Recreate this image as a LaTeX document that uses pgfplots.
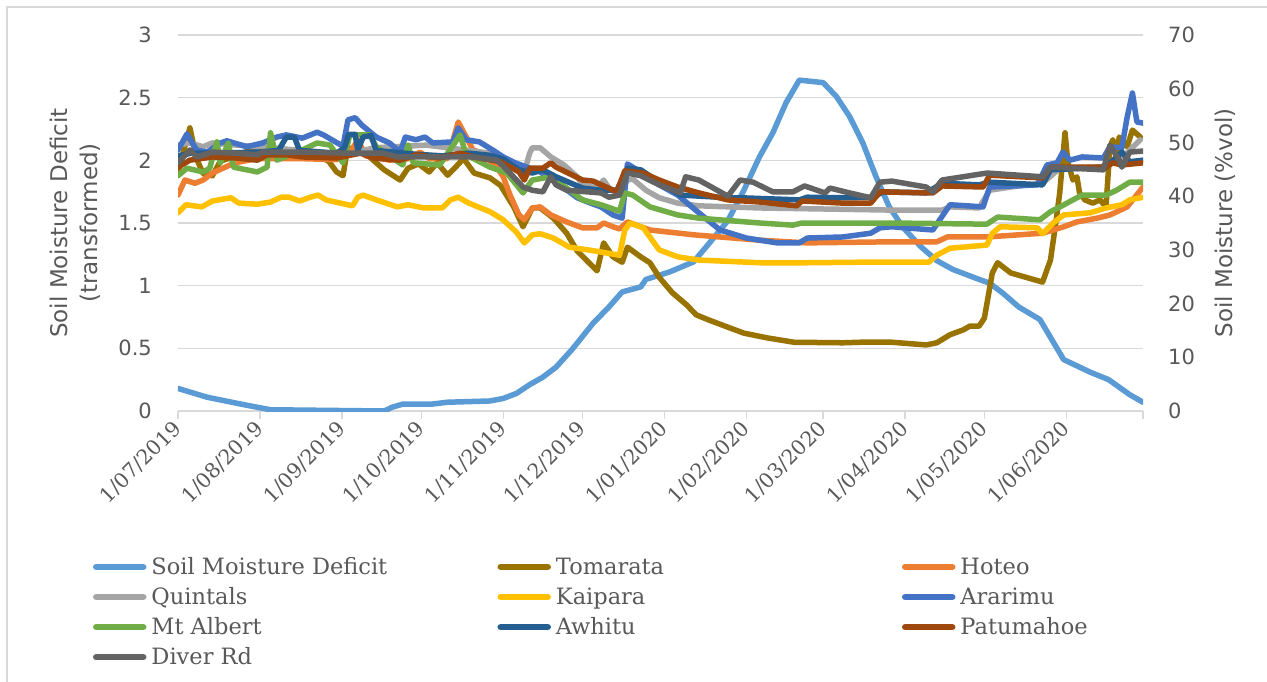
\documentclass[border=0pt]{standalone}
\usepackage{pgfplots}
\pgfplotsset{compat=1.18}
\usepackage{fontspec}
\setmainfont{DejaVu Serif}
\newfontfamily\dvsans{DejaVu Sans}
\definecolor{smd}{HTML}{5B9BD5}
\definecolor{tomarata}{HTML}{997300}
\definecolor{hoteo}{HTML}{ED7D31}
\definecolor{quintals}{HTML}{A5A5A5}
\definecolor{kaipara}{HTML}{FFC000}
\definecolor{ararimu}{HTML}{4472C4}
\definecolor{mtalbert}{HTML}{70AD47}
\definecolor{awhitu}{HTML}{255E91}
\definecolor{patumahoe}{HTML}{9E480E}
\definecolor{diver}{HTML}{636363}
\definecolor{gridgrey}{HTML}{D9D9D9}
\definecolor{textgrey}{HTML}{595959}
\pgfplotsset{
  common/.style={
    scale only axis, width=965pt, height=376pt,
    at={(178pt,270pt)}, anchor=south west,
    xmin=0, xmax=365,
    /pgf/number format/assume math mode=true,
  },
  ser/.style={line width=5.5pt, line join=round, line cap=round, mark=none},
}
\begin{document}
\begin{tikzpicture}
\useasboundingbox (0,0) rectangle (1267pt,681pt);
\fill[white] (0,0) rectangle (1267pt,681pt);
\draw[color=gridgrey, line width=1.2pt] (7pt,-20pt) -- (7pt,674pt) -- (1300pt,674pt);
\begin{axis}[common,
  ymin=0, ymax=3, ytick={0,0.5,1,1.5,2,2.5,3},
  ymajorgrids, grid style={color=gridgrey, line width=1.3pt},
  axis x line*=bottom, axis y line*=left,
  y axis line style={draw=none}, ytick style={draw=none},
  x axis line style={-, color=gridgrey, line width=1.3pt},
  xtick={0,31,62,92,123,153,184,215,244,275,305,336,365},
  xticklabels={1/07/2019,1/08/2019,1/09/2019,1/10/2019,1/11/2019,1/12/2019,1/01/2020,1/02/2020,1/03/2020,1/04/2020,1/05/2020,1/06/2020,{}},
  xtick align=outside, major tick length=8pt,
  xtick style={color=gridgrey, line width=1.3pt},
  xticklabel style={rotate=45, anchor=east, inner sep=0pt, font=\fontsize{20.5}{20.5}\selectfont, text=textgrey},
  xticklabel shift=6pt,
  yticklabel style={anchor=east, inner sep=0pt, xshift=-26pt, font=\dvsans\fontsize{21}{21}\selectfont, text=textgrey},
  ylabel={Soil Moisture Deficit\\(transformed)},
  ylabel style={at={(axis description cs:-0.0767,0.5)}, anchor=south, align=center, font=\dvsans\fontsize{23}{30}\selectfont, text=textgrey},
]
\addplot[ser, color=smd] coordinates {(0,0.18)(11,0.11)(25,0.05)(35,0.01)(78,0.0)(81,0.03)(85,0.055)(96,0.055)(102,0.07)(118,0.08)(123,0.10)(128,0.14)(133,0.21)(138,0.27)(143,0.35)(149,0.49)(157,0.70)(163,0.83)(168,0.95)(175,0.99)(177,1.05)(186,1.11)(195,1.19)(201,1.34)(208,1.52)(214,1.76)(220,2.03)(225,2.22)(230,2.46)(235,2.64)(244,2.62)(249,2.51)(254,2.35)(259,2.14)(264,1.87)(269,1.63)(274,1.47)(281,1.31)(287,1.20)(293,1.13)(303,1.05)(307,1.02)(312,0.94)(318,0.83)(326,0.73)(335,0.41)(345,0.31)(352,0.25)(360,0.13)(365,0.07)};
\end{axis}
\begin{axis}[common,
  ymin=0, ymax=70, ytick={0,10,20,30,40,50,60,70},
  axis x line=none, axis y line*=right,
  y axis line style={draw=none}, ytick style={draw=none},
  yticklabel style={anchor=west, inner sep=0pt, xshift=25pt, font=\dvsans\fontsize{21}{21}\selectfont, text=textgrey},
  ylabel={Soil Moisture (\%vol)},
  ylabel style={at={(axis description cs:1.0705,0.5)}, anchor=north, font=\dvsans\fontsize{23}{30}\selectfont, text=textgrey},
  legend columns=3, legend cell align=left,
  legend style={at={(axis description cs:-0.0881,-0.392)}, anchor=north west, draw=none, fill=none,
    inner sep=0pt, outer sep=0pt, nodes={inner sep=0pt, outer sep=0pt, text height=16pt, text depth=6pt}, column sep=0pt, row sep=8.1pt,
    font=\fontsize{22.5}{30.7}\selectfont, text=textgrey,
    /tikz/every odd column/.append style={column sep=5pt}},
  legend image code/.code={\draw[#1, line width=6.5pt, line cap=round] (3pt,2.5pt) -- (50pt,2.5pt);},
]
\addlegendimage{ser, color=smd}
\addlegendentry{\makebox[346pt][l]{Soil Moisture Deficit}}
\addplot[ser, color=tomarata] coordinates {(0,44.5)(4.5,52.7)(7,47)(9.5,44.2)(13,43.8)(16,46.5)(22,47.5)(27,48.5)(35,48.2)(45,47.5)(52,47.8)(57,46.5)(60,44.5)(62.4,43.8)(64,48.5)(68,49.5)(72,47.5)(78,44.9)(84,43.0)(87,45.2)(91,46)(95,44.5)(98,46.2)(102,43.9)(105,45.4)(108,47)(112,44.3)(118,43.4)(122,42.0)(127,38.0)(130.5,34.3)(134,37.8)(137,37.8)(142,35.9)(147,33.1)(151,29.8)(155,27.8)(158.5,26.1)(161,31.3)(164.5,28.7)(168,27.7)(170,30.5)(175,28.7)(178.5,27.6)(182,24.9)(187,22.0)(192.5,19.7)(196,17.9)(201,16.9)(208,15.6)(214,14.5)(223,13.6)(233,12.8)(251.5,12.7)(258,12.8)(270,12.8)(283,12.3)(287,12.7)(292,14.2)(297,15.1)(299.5,15.8)(303,15.8)(305,17.3)(308,25.7)(310,27.6)(315,25.7)(327,24.0)(330,28.1)(332,35.0)(333.5,40.6)(335.5,51.8)(336.6,46.2)(338.5,43.0)(340,43.6)(341,40.6)(343,39.3)(346,38.7)(348.7,39.3)(351,38.0)(352.5,49.2)(353.6,50.5)(355,47.3)(356,51.0)(359,49.2)(361,52.3)(364,51.0)};
\addlegendentry{\makebox[346pt][l]{Tomarata}}
\addplot[ser, color=hoteo] coordinates {(0,40.2)(2.6,43.0)(6.4,42.4)(9.5,43.0)(13,44.3)(17,45.2)(21.5,46.2)(30,47)(45,47)(60,46.8)(65,48)(68,50.5)(71,47.5)(80,46.7)(88,47)(91.5,48.2)(95,47)(102,47)(106,53.8)(111.6,48.6)(115,48.0)(120.6,45.4)(123,43.6)(125.6,40.2)(129,36.5)(131,35.6)(134,37.8)(137,38.0)(141,36.5)(147,35.2)(153,34.1)(158.5,34.1)(161,35.0)(164.5,34.3)(167,33.9)(170,35.2)(178.5,33.7)(195,32.8)(220,31.8)(238,31.3)(270,31.5)(287,31.5)(291,32.4)(306,32.4)(327,33.1)(335,34.3)(340,35.2)(347.6,35.9)(352.5,36.5)(359,38.0)(365,41.7)};
\addlegendentry{\makebox[346pt][l]{Hoteo}}
\addplot[ser, color=quintals] coordinates {(0,49.5)(4.5,49.9)(9.5,49.2)(13,49.9)(22,49.5)(30,49.2)(35,49.0)(54,48.2)(64,47.7)(74,49.0)(94,49.5)(118,48.0)(123,46.7)(127,45.8)(131,44.5)(133,48.0)(134,49.0)(137,49.0)(141,47.3)(146,45.8)(151,43.6)(153,42.1)(158.5,41.5)(161,43.0)(163,41.5)(167,40.2)(170,43.0)(172,43.2)(177,41.1)(182,39.7)(189,38.7)(197,38.2)(220,37.8)(245,37.6)(270,37.4)(289,37.4)(292,38.0)(303,37.8)(307,41.1)(315,41.7)(327,42.4)(333.5,45.2)(349,45.4)(356,46.7)(364,50.5)};
\addlegendentry{\makebox[346pt][l]{Quintals}}
\addplot[ser, color=kaipara] coordinates {(0,36.9)(3,38.4)(9,38.0)(13,39.1)(20,39.7)(23,38.7)(30,38.5)(35,38.9)(39,39.8)(42,39.8)(46,39.1)(50,39.8)(53,40.2)(56,39.3)(66,38.2)(68,39.8)(70,40.2)(75,39.3)(83,38.0)(87,38.4)(93,37.8)(100,37.8)(103,39.3)(106,39.8)(110,38.7)(118,37.1)(123,35.6)(128,33.3)(131,31.3)(134,32.8)(137,33.0)(142,32.2)(148,30.5)(155,30.0)(160,29.6)(167,29.0)(169,33.7)(171,35.0)(176,34.1)(182,30.0)(189,28.7)(197,28.1)(220,27.6)(238,27.6)(258,27.7)(284,27.7)(287,29.0)(292,30.3)(306,30.9)(308,33.1)(311,34.3)(325,34.1)(327,33.0)(331,35.0)(335,36.5)(345,36.9)(351,37.8)(357,38.4)(360,39.3)(365,39.8)};
\addlegendentry{\makebox[346pt][l]{Kaipara}}
\addplot[ser, color=ararimu] coordinates {(0,48.6)(3.4,51.6)(7,48.6)(11,48.2)(16,49.9)(18.5,50.3)(26,49.2)(32,49.9)(37.4,51.0)(41,51.4)(47,50.8)(52.6,51.9)(55,51.4)(62.4,49.3)(64.3,54.2)(67,54.6)(69.6,53.2)(75,51.0)(80,49.9)(84,48.2)(86,51.0)(90,50.5)(93.4,51.0)(96.4,49.9)(104,50.1)(106,52.7)(109,50.5)(114,50.1)(119,48.6)(123,47.3)(127.5,46.2)(137,44.5)(144.5,42.1)(151,39.7)(155,38.9)(160,38.0)(164.5,36.5)(168,35.9)(170,46.0)(173.6,44.9)(182,42.1)(189,40.2)(197,36.9)(205,33.7)(215,32.2)(226.5,31.3)(235,31.3)(238,32.2)(251.5,32.4)(262,33.1)(265.5,34.1)(270,34.3)(285.5,33.7)(292,38.4)(304.5,38.0)(307,41.7)(325,42.1)(328.7,45.8)(332.5,46.2)(334.7,48.2)(337.4,46.7)(342,47.3)(350,47.1)(352.5,49.2)(357,49.0)(359,54.7)(361,59.2)(362.7,53.8)(365,53.6)};
\addlegendentry{\makebox[346pt][l]{Ararimu}}
\addplot[ser, color=mtalbert] coordinates {(0,43.8)(3.4,45.2)(9.5,44.5)(12,45.2)(14.7,50.1)(16,46.2)(19,49.9)(21,45.4)(30,44.5)(33.7,45.4)(35,51.8)(37.4,46.7)(47,48.6)(52.6,49.9)(57.5,49.5)(62.4,46.2)(65,51.4)(72.6,51.4)(75,49.2)(85,45.8)(87,49.5)(89,46.2)(99,45.8)(106.7,51.4)(109,47.7)(118,45.4)(124.4,44.3)(130.5,40.6)(134,43.0)(141,43.6)(147,41.5)(153,39.3)(160,38.4)(167,37.2)(169,40.6)(172,40.2)(178.5,38.0)(189,36.5)(197,35.9)(220,35.0)(232.6,34.6)(236,35.0)(270,35.0)(303,34.8)(306,34.8)(310,36.1)(326,35.6)(330,37.1)(333.6,38.0)(340,39.7)(342,40.2)(351,40.2)(355,41.1)(357,41.7)(360,42.6)(365,42.6)};
\addlegendentry{\makebox[346pt][l]{Mt Albert}}
\addplot[ser, color=awhitu] coordinates {(0,47.5)(5,48)(15,48)(30,48.2)(38,48.5)(41,51.0)(44,51.0)(46,48.5)(60,48)(63,49)(64.5,51.5)(67,51.5)(68,48.5)(70,51)(73,51.3)(75,48.5)(90,47.8)(100,47.5)(110,48)(118,47.6)(123,46.9)(129,44.9)(134,44.3)(138,44.9)(143,43.6)(153,41.5)(160,41.1)(166,41.1)(170,45.2)(175,44.9)(182,42.6)(190,40.2)(208,39.7)(212.6,39.7)(235,39.3)(238,39.8)(251.5,39.7)(263,39.8)(266.6,40.8)(283,40.6)(289,42.4)(303,42.1)(307,42.6)(327,42.1)(330,44.9)(351,45.4)(357,48.2)(360,46.4)(365,46.7)};
\addlegendentry{\makebox[346pt][l]{Awhitu}}
\addplot[ser, color=patumahoe] coordinates {(0,45.4)(4.5,46.7)(13,47.3)(22,47.1)(30,46.7)(33.7,47.7)(41,47.7)(47,47.3)(60,47.1)(69,48.0)(74,47.1)(84,46.7)(90,47.7)(99,47.1)(106.7,48.0)(111.6,47.3)(122,46.4)(129,44.5)(131,43.0)(133,45.2)(138,45.2)(141,46.2)(143,45.4)(153,43.0)(157,42.8)(166,40.8)(169,44.7)(176,44.3)(182,43.0)(189,41.7)(197,40.6)(208,39.3)(220,38.9)(234,38.2)(236,39.1)(251.5,38.7)(262,38.7)(265.5,40.8)(285.5,40.6)(289,41.9)(304.5,41.7)(307,43.9)(327,43.4)(330,45.4)(351,45.4)(353.6,46.2)(357,45.8)(365,46.2)};
\addlegendentry{\makebox[346pt][l]{Patumahoe}}
\addplot[ser, color=diver] coordinates {(0,46.2)(4.5,48.6)(7,47.3)(13,48.2)(22,48.0)(30,47.7)(32,48.2)(47,48.2)(65,48.0)(77.5,48.0)(83,47.3)(99,47.3)(111.6,47.3)(120.6,46.7)(124.4,44.9)(130.5,41.7)(134,41.1)(138,40.8)(141,43.6)(143,42.1)(147,41.1)(160,40.6)(163,39.8)(167,40.2)(170,44.3)(175,43.8)(182,42.1)(190,40.6)(192,43.6)(197,43.0)(208,40.0)(212.6,43.0)(217.5,42.6)(225,40.8)(232.6,40.8)(237,41.9)(244.7,40.6)(246.6,41.5)(254,40.6)(262,39.7)(265.5,42.6)(270,42.8)(283,41.7)(285.5,40.8)(289,43.0)(306,44.3)(327,43.6)(330,45.4)(350,44.9)(352.5,49.5)(356,46.7)(357,45.4)(360,48.2)(365,48.4)};
\addlegendentry{\makebox[346pt][l]{Diver Rd}}
\end{axis}
\end{tikzpicture}
\end{document}
